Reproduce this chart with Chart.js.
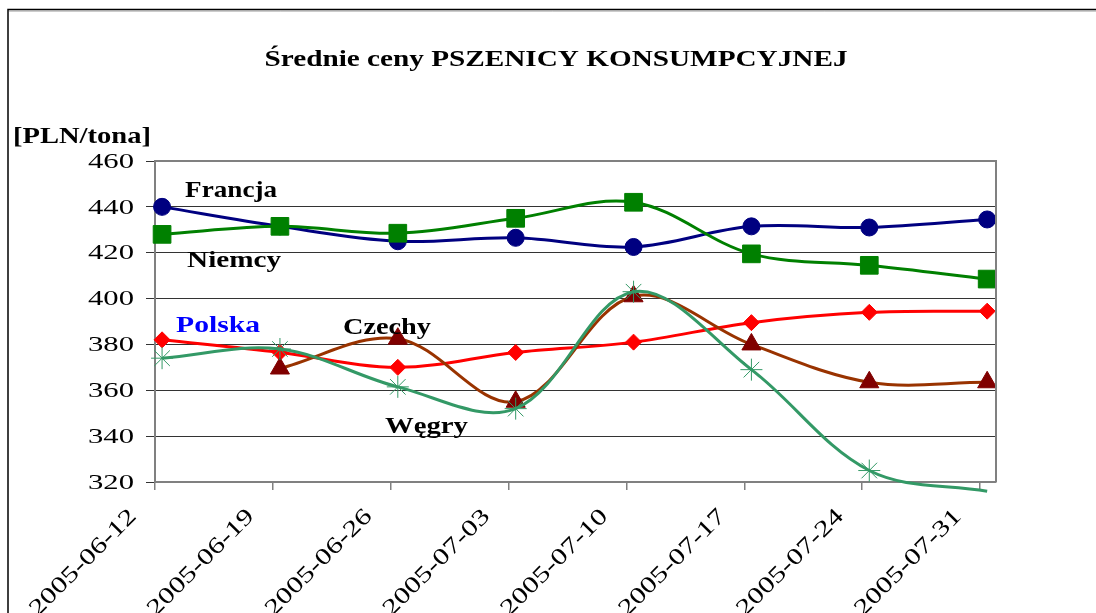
<!DOCTYPE html>
<html>
<head>
<meta charset="utf-8">
<script src="https://cdn.jsdelivr.net/npm/chart.js@4.4.0/dist/chart.umd.min.js"></script>
<style>
  html, body { margin: 0; padding: 0; background: #fff; overflow: hidden; }
  #wrap { width: 1096px; height: 613px; overflow: hidden; }
</style>
</head>
<body>
<div id="wrap"><canvas id="c" width="1096" height="660"></canvas></div>
<script>
// tygodnie notowań
const dates = ['2005-06-12', '2005-06-19', '2005-06-26', '2005-07-03', '2005-07-10', '2005-07-17', '2005-07-24', '2005-07-31'];

// ceny [PLN/tona]
const francja = [440, 431.5, 425, 426.5, 422.5, 431.5, 431, 434.5];
const niemcy  = [428, 431.5, 428.5, 435, 442, 419.5, 414.5, 408.5];
const polska  = [382, 376.5, 370, 376.5, 381, 389.5, 394, 394.5];
const czechy  = [null, 369.5, 382.5, 355, 401, 380, 363.5, 363.5];
const wegry   = [374, 378, 361.5, 352, 403, 369, 325, 316];

// oś Y
const yMin = 320, yMax = 460, yStep = 20;

const FONT = '"Liberation Serif", "Times New Roman", serif';

// podpisy serii na wykresie (w jednostkach osi)
const PODPISY = [
  { txt: 'Francja', x: 0.195, y: 444.3, w: 92, color: '#000' },
  { txt: 'Niemcy',  x: 0.212, y: 413.8, w: 94, color: '#000' },
  { txt: 'Polska',  x: 0.119, y: 385.4, w: 84, color: '#0000ff' },
  { txt: 'Czechy',  x: 1.535, y: 384.6, w: 88, color: '#000' },
  { txt: 'Węgry',   x: 1.891, y: 341.4, w: 83, color: '#000' },
];

function xy(arr) {
  return arr.map((v, i) => ({ x: i, y: v }));
}

// tekst rozciągnięty do zadanej szerokości (jak w Excelu)
function fitText(ctx, txt, x, y, w, font, color, align) {
  ctx.save();
  ctx.font = font;
  ctx.fillStyle = color;
  ctx.textBaseline = 'alphabetic';
  ctx.textAlign = 'left';
  const m = ctx.measureText(txt).width;
  const sx = w / m;
  const x0 = align === 'center' ? x - w / 2 : x;
  ctx.translate(x0, y);
  ctx.scale(sx, 1);
  ctx.fillText(txt, 0, 0);
  ctx.restore();
}

const opisy = {
  id: 'opisy',
  beforeDraw(chart) {
    const ctx = chart.ctx;
    ctx.save();
    ctx.fillStyle = '#fff';
    ctx.fillRect(0, 0, chart.width, chart.height);
    // ramka zewnętrzna
    ctx.strokeStyle = '#000';
    ctx.lineWidth = 1.5;
    ctx.beginPath();
    ctx.moveTo(8, chart.height);
    ctx.lineTo(8, 9.5);
    ctx.lineTo(chart.width, 9.5);
    ctx.stroke();
    ctx.strokeStyle = '#999';
    ctx.lineWidth = 1;
    ctx.beginPath();
    ctx.moveTo(9, 11);
    ctx.lineTo(chart.width, 11);
    ctx.stroke();
    ctx.restore();
  },
  afterDatasetsDraw(chart) {
    const { ctx, chartArea: a, scales: { x, y } } = chart;
    ctx.save();
    ctx.strokeStyle = '#808080';
    ctx.lineWidth = 2;
    ctx.beginPath();
    ctx.moveTo(a.left, a.top);
    ctx.lineTo(a.right, a.top);
    ctx.lineTo(a.right, a.bottom);
    ctx.stroke();
    ctx.restore();

    // etykiety osi Y (rozciągnięte poziomo)
    ctx.save();
    ctx.font = '22px ' + FONT;
    ctx.fillStyle = '#000';
    ctx.textAlign = 'right';
    ctx.textBaseline = 'middle';
    const sy = 46 / ctx.measureText('460').width;
    y.ticks.forEach(t => {
      ctx.save();
      ctx.translate(134, y.getPixelForValue(t.value) + 1);
      ctx.scale(sy, 1);
      ctx.fillText(String(t.value), 0, 0);
      ctx.restore();
    });
    ctx.restore();

    // etykiety osi X (obrócone o 45°)
    ctx.save();
    ctx.font = '23px ' + FONT;
    ctx.fillStyle = '#000';
    ctx.textAlign = 'right';
    ctx.textBaseline = 'middle';
    const sxl = 141 / ctx.measureText(dates[1]).width;
    dates.forEach((d, i) => {
      ctx.save();
      ctx.translate(x.getPixelForValue(i) - 29, a.bottom + 31);
      ctx.rotate(-Math.PI / 4);
      ctx.scale(sxl, 1);
      ctx.fillText(d, 0, 0);
      ctx.restore();
    });
    ctx.restore();

    fitText(ctx, 'Średnie ceny PSZENICY KONSUMPCYJNEJ', 556, 66, 583, 'bold 24px ' + FONT, '#000', 'center');
    fitText(ctx, '[PLN/tona]', 13, 143, 138, 'bold 24px ' + FONT, '#000', 'left');

    PODPISY.forEach(p => {
      fitText(ctx, p.txt, x.getPixelForValue(p.x), y.getPixelForValue(p.y), p.w, 'bold 23px ' + FONT, p.color, 'left');
    });
  }
};

const serie = [
  { data: francja, line: '#000080', fill: '#000080', style: 'circle', r: 8.5 },
  { data: niemcy,  line: '#008000', fill: '#008000', style: 'rect', r: 12.5 },
  { data: polska,  line: '#ff0000', fill: '#ff0000', style: 'rectRot', r: 8 },
  { data: czechy,  line: '#993300', fill: '#800000', style: 'triangle', r: 11 },
  { data: wegry,   line: '#339966', fill: '#339966', style: 'star', r: 11 },
];

new Chart(document.getElementById('c'), {
  type: 'line',
  data: {
    datasets: serie.map(s => ({
      data: xy(s.data),
      borderColor: s.line,
      borderWidth: 3,
      tension: 0.35,
      pointStyle: s.style,
      pointRadius: ctx => (ctx.raw && ctx.raw.y < yMin ? 0 : s.r),
      pointBackgroundColor: s.fill,
      pointBorderColor: s.fill,
      pointBorderWidth: 1,
      clip: false,
    })).reverse(),
  },
  options: {
    responsive: false,
    animation: false,
    events: [],
    layout: { padding: { top: 161, right: 100, left: 0, bottom: 0 } },
    plugins: {
      legend: { display: false },
      tooltip: { enabled: false },
    },
    scales: {
      x: {
        type: 'linear',
        min: -0.06,
        max: 7.075,
        // znaczniki między kategoriami, jak w Excelu
        afterBuildTicks: axis => { axis.ticks = dates.map((d, i) => ({ value: i - 0.06 })); },
        afterFit: s => { s.height = 660 - 482; },
        ticks: { display: false },
        grid: { drawOnChartArea: false, drawTicks: true, tickLength: 8, color: '#808080', lineWidth: 1.5 },
        border: { color: '#808080', width: 2 },
      },
      y: {
        min: yMin,
        max: yMax,
        afterFit: s => { s.width = 155; },
        ticks: { stepSize: yStep, display: false },
        grid: { color: '#333', lineWidth: 1, tickLength: 9 },
        border: { color: '#808080', width: 2 },
      },
    },
  },
  plugins: [opisy],
});
</script>
</body>
</html>
